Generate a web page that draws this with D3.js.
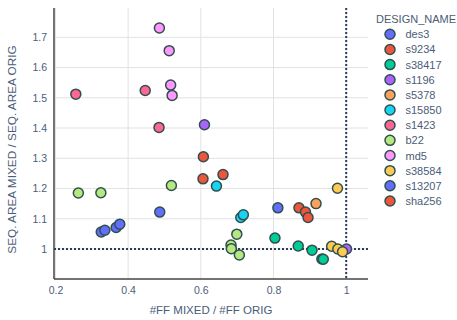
<!DOCTYPE html>
<html lang="en">

<head>
	<meta charset="utf-8">
	<title>Mixed vs orig</title>
	<script src="https://d3js.org/d3.v7.min.js"></script>
	<style>
		body { margin: 0; background: #fff; }
		text { font-family: "Liberation Sans", Arial, sans-serif; }
	</style>
</head>

<body>
	<svg id="chart" width="457" height="320"></svg>

	<script type="text/javascript">
		// legend entries, in draw order
		var designNames = ["des3", "s9234", "s38417", "s1196", "s5378", "s15850", "s1423", "b22", "md5", "s38584", "s13207", "sha256"];
		var designColors = ["#636efa", "#EF553B", "#00cc96", "#ab63fa", "#FFA15A", "#19d3f3", "#FF6692", "#B6E880", "#FF97FF", "#FECB52", "#636efa", "#EF553B"];

		// #FF mixed / #FF orig, one list per design
		var ffRatio = [
			[0.326, 0.336, 0.367, 0.377],
			[0.870, 0.888, 0.895],
			[0.804, 0.868, 0.906, 0.933, 0.937],
			[0.610, 1.001],
			[0.917],
			[0.643, 0.710, 0.717],
			[0.256, 0.447, 0.485],
			[0.263, 0.325, 0.519, 0.699, 0.683, 0.684, 0.706],
			[0.486, 0.513, 0.517, 0.521],
			[0.976, 0.960, 0.977, 0.990],
			[0.487, 0.812],
			[0.607, 0.606, 0.661]
		];
		// seq. area mixed / seq. area orig, one list per design
		var areaRatio = [
			[1.056, 1.062, 1.071, 1.082],
			[1.136, 1.122, 1.104],
			[1.036, 1.010, 0.996, 0.967, 0.966],
			[1.411, 1.000],
			[1.150],
			[1.208, 1.104, 1.113],
			[1.512, 1.524, 1.402],
			[1.185, 1.186, 1.210, 1.049, 1.013, 1.001, 0.980],
			[1.731, 1.656, 1.542, 1.508],
			[1.201, 1.009, 1.000, 0.991],
			[1.122, 1.136],
			[1.305, 1.232, 1.246]
		];

		var xTicks = [0.2, 0.4, 0.6, 0.8, 1];
		var yTicks = [1, 1.1, 1.2, 1.3, 1.4, 1.5, 1.6, 1.7];

		//******************Init Canvas*********************//
		var margin = { top: 8, right: 89, bottom: 41, left: 54 },
			width = 457 - margin.left - margin.right,
			height = 320 - margin.top - margin.bottom;

		var svg = d3.select("#chart")
			.append("g")
			.attr("transform", "translate(" + margin.left + "," + margin.top + ")");

		var scaleX = d3.scaleLinear()
			.domain([0.196, 1.06])
			.range([0, width]);
		var scaleY = d3.scaleLinear()
			.domain([0.9007, 1.797])
			.range([height, 0]);

		var textColor = "#2a3f5f";
		var tickColor = "#4a5d78";

		// grid
		svg.selectAll(".gx")
			.data(xTicks)
			.enter()
			.append("line")
			.attr("x1", function (d) { return scaleX(d) })
			.attr("x2", function (d) { return scaleX(d) })
			.attr("y1", 0)
			.attr("y2", height)
			.attr("stroke", "#e2e2e2")
			.attr("stroke-width", 1)
		svg.selectAll(".gy")
			.data(yTicks)
			.enter()
			.append("line")
			.attr("x1", 0)
			.attr("x2", width)
			.attr("y1", function (d) { return scaleY(d) })
			.attr("y2", function (d) { return scaleY(d) })
			.attr("stroke", "#e2e2e2")
			.attr("stroke-width", 1)

		// axes (labels only, plus the left/bottom lines)
		var xAxis = svg.append("g")
			.attr("transform", "translate(0," + height + ")")
			.call(d3.axisBottom(scaleX).tickValues(xTicks).tickSize(0).tickPadding(8).tickFormat(d3.format("~g")));
		var yAxis = svg.append("g")
			.call(d3.axisLeft(scaleY).tickValues(yTicks).tickSize(0).tickPadding(7).tickFormat(d3.format("~g")));
		[xAxis, yAxis].forEach(function (a) {
			a.select(".domain").remove();
			a.selectAll("text")
				.attr("fill", tickColor)
				.style("font-size", "10.5px")
				.style("font-family", "Liberation Sans, Arial, sans-serif");
		});

		svg.append("line")
			.attr("x1", 0).attr("x2", 0)
			.attr("y1", 0).attr("y2", height)
			.attr("stroke", "#444").attr("stroke-width", 1.5)
		svg.append("line")
			.attr("x1", 0).attr("x2", width)
			.attr("y1", height).attr("y2", height)
			.attr("stroke", "#444").attr("stroke-width", 1.5)

		// reference lines at 1
		svg.append("line")
			.attr("x1", scaleX(1)).attr("x2", scaleX(1))
			.attr("y1", 0).attr("y2", height)
			.attr("stroke", textColor).attr("stroke-width", 2)
			.attr("stroke-dasharray", "2,2")
		svg.append("line")
			.attr("x1", 0).attr("x2", width)
			.attr("y1", scaleY(1)).attr("y2", scaleY(1))
			.attr("stroke", textColor).attr("stroke-width", 2)
			.attr("stroke-dasharray", "2,2")

		// markers
		designNames.forEach(function (name, i) {
			var pts = ffRatio[i].map(function (x, j) { return [x, areaRatio[i][j]] });
			svg.append("g")
				.selectAll("circle")
				.data(pts)
				.enter()
				.append("circle")
				.attr("cx", function (d) { return scaleX(d[0]) })
				.attr("cy", function (d) { return scaleY(d[1]) })
				.attr("r", 5)
				.attr("fill", designColors[i])
				.attr("stroke", "#2F4F4F")
				.attr("stroke-width", 1.5)
		});

		// axis titles
		svg.append("text")
			.attr("x", width / 2)
			.attr("y", height + 35)
			.attr("text-anchor", "middle")
			.attr("fill", tickColor)
			.style("font-size", "11.5px")
			.text("#FF MIXED / #FF ORIG")
		svg.append("text")
			.attr("transform", "translate(" + (-38) + "," + (height / 2 + 6) + ") rotate(-90)")
			.attr("text-anchor", "middle")
			.attr("fill", tickColor)
			.style("font-size", "11.8px")
			.text("SEQ. AREA MIXED / SEQ. AREA ORIG")

		//******************Legend*********************//
		var legend = d3.select("#chart").append("g");
		legend.append("text")
			.attr("x", 376)
			.attr("y", 23)
			.attr("fill", tickColor)
			.style("font-size", "11px")
			.text("DESIGN_NAME")
		var items = legend.selectAll(".item")
			.data(designNames)
			.enter()
			.append("g")
			.attr("transform", function (d, i) { return "translate(390," + (34.3 + i * 15.15) + ")" });
		items.append("circle")
			.attr("r", 5)
			.attr("fill", function (d, i) { return designColors[i] })
			.attr("stroke", "#2F4F4F")
			.attr("stroke-width", 1.5)
		items.append("text")
			.attr("x", 15.5)
			.attr("y", 4)
			.attr("fill", tickColor)
			.style("font-size", "11px")
			.text(function (d) { return d })
	</script>
</body>

</html>
